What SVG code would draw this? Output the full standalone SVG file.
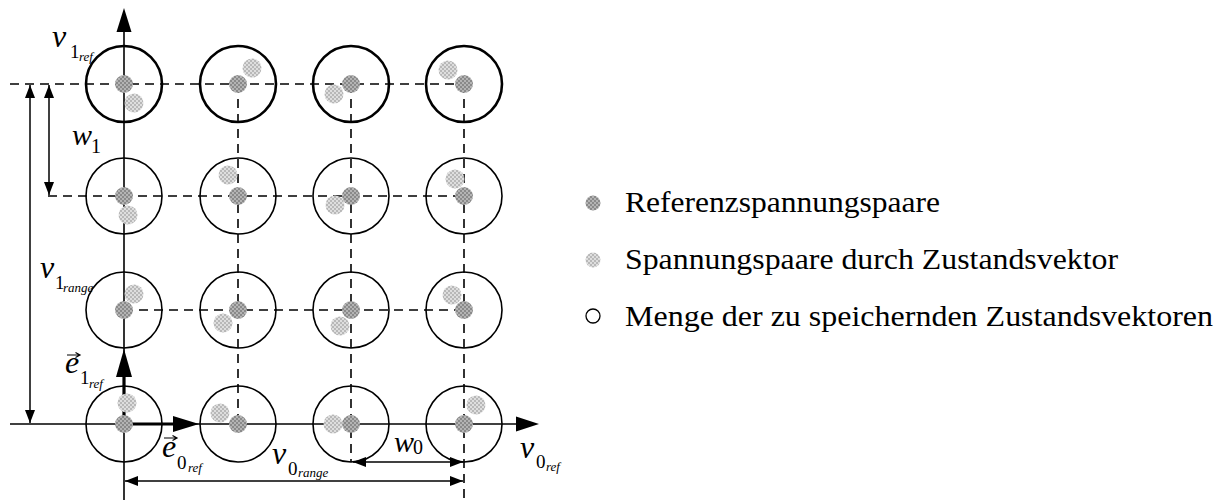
<svg xmlns="http://www.w3.org/2000/svg" width="1227" height="500" viewBox="0 0 1227 500">
<defs>
<pattern id="pRef" width="4" height="4" patternUnits="userSpaceOnUse">
<rect width="4" height="4" fill="#8a8a8a"/>
<rect width="2" height="2" fill="#b4b4b4"/>
<rect x="2" y="2" width="2" height="2" fill="#b4b4b4"/>
</pattern>
<pattern id="pSt" width="4" height="4" patternUnits="userSpaceOnUse">
<rect width="4" height="4" fill="#b8b8b8"/>
<rect width="2" height="2" fill="#dedede"/>
<rect x="2" y="2" width="2" height="2" fill="#dedede"/>
</pattern>
<marker id="dim" markerUnits="userSpaceOnUse" markerWidth="14" markerHeight="10" refX="13" refY="5" orient="auto-start-reverse" viewBox="0 0 14 10">
<path d="M0,0 L13,5 L0,10 z" fill="#000"/>
</marker>
</defs>
<style>
.ax{stroke:#000;stroke-width:1.6;fill:none}
.dash{stroke:#000;stroke-width:1.6;fill:none;stroke-dasharray:9,6}
.dim{stroke:#000;stroke-width:1.5;fill:none}
.vec{stroke:#000;stroke-width:3.2;fill:none}
.c{fill:none;stroke:#000;stroke-width:1.6}
.ct{fill:none;stroke:#000;stroke-width:2.6}
.r{fill:url(#pRef)}
.s{fill:url(#pSt)}
text{font-family:'Times New Roman','Liberation Serif',serif;fill:#000}
.m{font-style:italic}
.lg{font-size:29px}
</style>
<rect width="1227" height="500" fill="#fff"/>

<g id="connectors">
<line class="dash" x1="10" y1="84" x2="464" y2="84"/>
<line class="dash" x1="48" y1="196" x2="464" y2="196"/>
<line class="dash" x1="124" y1="310" x2="464" y2="310"/>
<line class="dash" x1="238" y1="84" x2="238" y2="424"/>
<line class="dash" x1="351" y1="84" x2="351" y2="462"/>
<line class="dash" x1="464" y1="84" x2="464" y2="500"/>
<line class="ax" x1="124" y1="30" x2="124" y2="500"/>
<polygon points="124,8 116.5,32 131.5,32" fill="#000"/>
<line class="ax" x1="10" y1="424" x2="520" y2="424"/>
<polygon points="539,424 516,416.5 516,431.5" fill="#000"/>
<line class="vec" x1="124" y1="424" x2="176" y2="424"/>
<polygon points="199,424 173,416 173,432" fill="#000"/>
<line class="vec" x1="124" y1="424" x2="124" y2="374"/>
<polygon points="124,349 116,377 132,377" fill="#000"/>
<line class="dim" x1="30" y1="85" x2="30" y2="423" marker-start="url(#dim)" marker-end="url(#dim)"/>
<line class="dim" x1="49" y1="85" x2="49" y2="195" marker-start="url(#dim)" marker-end="url(#dim)"/>
<line class="dim" x1="125" y1="481" x2="463" y2="481" marker-start="url(#dim)" marker-end="url(#dim)"/>
<line class="dim" x1="353" y1="462" x2="463" y2="462" marker-start="url(#dim)" marker-end="url(#dim)"/>
</g>

<g id="n00"><circle class="ct" cx="124" cy="84" r="38"/><circle class="r" cx="124" cy="84" r="9"/><circle class="s" cx="134" cy="103" r="9.5"/></g>
<g id="n01"><circle class="ct" cx="238" cy="84" r="38"/><circle class="r" cx="238" cy="84" r="9"/><circle class="s" cx="252" cy="68" r="9.5"/></g>
<g id="n02"><circle class="ct" cx="351" cy="84" r="38"/><circle class="r" cx="351" cy="84" r="9"/><circle class="s" cx="334" cy="94" r="9.5"/></g>
<g id="n03"><circle class="ct" cx="464" cy="84" r="38"/><circle class="r" cx="464" cy="84" r="9"/><circle class="s" cx="448" cy="70" r="9.5"/></g>
<g id="n10"><circle class="c" cx="124" cy="196" r="38"/><circle class="r" cx="124" cy="196" r="9"/><circle class="s" cx="128" cy="215" r="9.5"/></g>
<g id="n11"><circle class="c" cx="238" cy="196" r="38"/><circle class="r" cx="238" cy="196" r="9"/><circle class="s" cx="228" cy="175" r="9.5"/></g>
<g id="n12"><circle class="c" cx="351" cy="196" r="38"/><circle class="r" cx="351" cy="196" r="9"/><circle class="s" cx="335" cy="205" r="9.5"/></g>
<g id="n13"><circle class="c" cx="464" cy="196" r="38"/><circle class="r" cx="464" cy="196" r="9"/><circle class="s" cx="455" cy="179" r="9.5"/></g>
<g id="n20"><circle class="c" cx="124" cy="310" r="38"/><circle class="r" cx="124" cy="310" r="9"/><circle class="s" cx="134" cy="294" r="9.5"/></g>
<g id="n21"><circle class="c" cx="238" cy="310" r="38"/><circle class="r" cx="238" cy="310" r="9"/><circle class="s" cx="223" cy="323" r="9.5"/></g>
<g id="n22"><circle class="c" cx="351" cy="310" r="38"/><circle class="r" cx="351" cy="310" r="9"/><circle class="s" cx="340" cy="326" r="9.5"/></g>
<g id="n23"><circle class="c" cx="464" cy="310" r="38"/><circle class="r" cx="464" cy="310" r="9"/><circle class="s" cx="452" cy="295" r="9.5"/></g>
<g id="n30"><circle class="c" cx="124" cy="424" r="38"/><circle class="r" cx="124" cy="424" r="9"/><circle class="s" cx="127" cy="403" r="9.5"/></g>
<g id="n31"><circle class="c" cx="238" cy="424" r="38"/><circle class="r" cx="238" cy="424" r="9"/><circle class="s" cx="220" cy="413" r="9.5"/></g>
<g id="n32"><circle class="c" cx="351" cy="424" r="38"/><circle class="r" cx="351" cy="424" r="9"/><circle class="s" cx="333" cy="424" r="9.5"/></g>
<g id="n33"><circle class="c" cx="464" cy="424" r="38"/><circle class="r" cx="464" cy="424" r="9"/><circle class="s" cx="476" cy="405" r="9.5"/></g>

<g id="labels">
<text class="m" x="52" y="47" font-size="32">v</text>
<text x="70" y="58" font-size="19">1</text>
<text class="m" x="79" y="61" font-size="13">ref</text>

<text class="m" x="72" y="145" font-size="30">w</text>
<text x="91" y="153" font-size="20">1</text>

<text class="m" x="40" y="278" font-size="32">v</text>
<text x="55" y="289" font-size="19">1</text>
<text class="m" x="63" y="292" font-size="13">range</text>

<path d="M67,355 L79,355 M75.5,352.5 L80,355 L75.5,357.5" stroke="#000" stroke-width="1.2" fill="none"/>
<text class="m" x="65" y="373" font-size="32">e</text>
<text x="80" y="384" font-size="19">1</text>
<text class="m" x="89" y="388" font-size="13">ref</text>

<path d="M164,438 L176,438 M172.5,435.5 L177,438 L172.5,440.5" stroke="#000" stroke-width="1.2" fill="none"/>
<text class="m" x="162" y="457" font-size="32">e</text>
<text x="177" y="469" font-size="19">0</text>
<text class="m" x="188" y="472" font-size="13">ref</text>

<text class="m" x="272" y="464" font-size="32">v</text>
<text x="288" y="475" font-size="19">0</text>
<text class="m" x="298" y="477" font-size="13">range</text>

<text class="m" x="394" y="452" font-size="30">w</text>
<text x="413" y="454" font-size="20">0</text>

<text class="m" x="520" y="458" font-size="32">v</text>
<text x="536" y="468" font-size="19">0</text>
<text class="m" x="546" y="471" font-size="13">ref</text>
</g>

<g id="legend">
<circle class="r" cx="593" cy="203" r="7.5"/>
<text class="lg" x="625" y="212" textLength="315" lengthAdjust="spacingAndGlyphs">Referenzspannungspaare</text>
<circle class="s" cx="593" cy="260" r="7.5"/>
<text class="lg" x="625" y="269" textLength="493" lengthAdjust="spacingAndGlyphs">Spannungspaare durch Zustandsvektor</text>
<circle cx="593" cy="316" r="7" fill="none" stroke="#000" stroke-width="1.3"/>
<text class="lg" x="625" y="326" textLength="588" lengthAdjust="spacingAndGlyphs">Menge der zu speichernden Zustandsvektoren</text>
</g>
</svg>
